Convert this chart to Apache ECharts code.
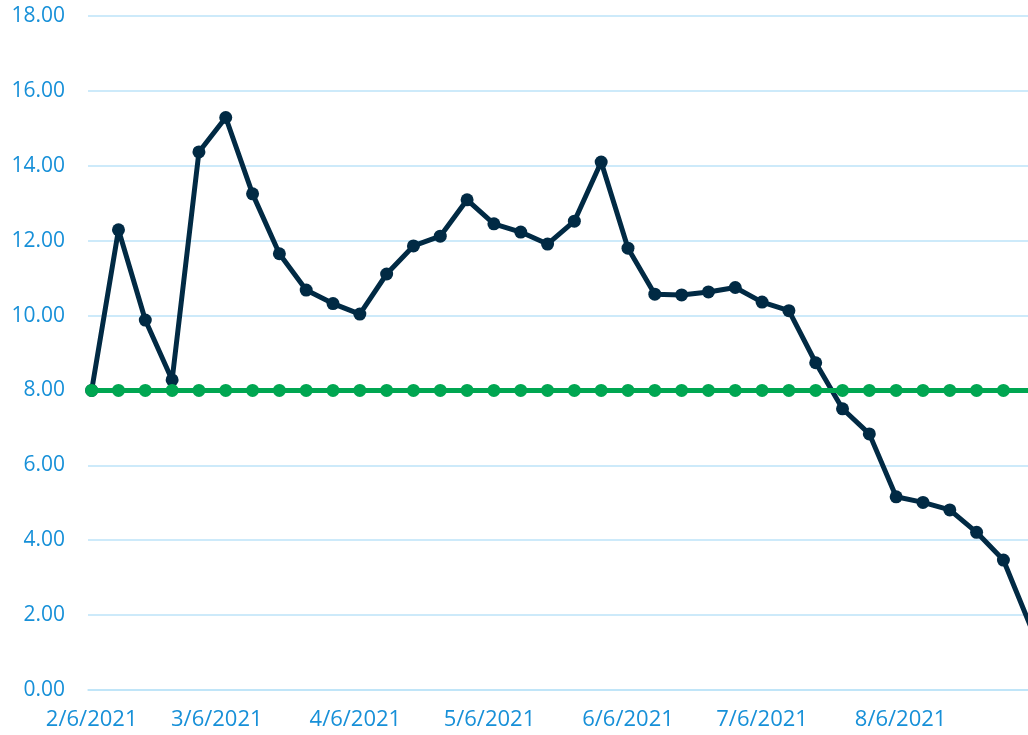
<!DOCTYPE html>
<html>
<head>
<meta charset="UTF-8"/>
<script src="https://cdn.jsdelivr.net/npm/echarts@6/dist/echarts.min.js"></script>
<style>
  html, body { margin: 0; background: #ffffff; }
  #c { width: 1028px; height: 735px; }
</style>
</head>
<body>
<div id="c"></div>
<script>
// dates of the readings (every 6 days)
const dates = [
  "2021-02-06", "2021-02-12", "2021-02-18", "2021-02-24", "2021-03-02", "2021-03-08",
  "2021-03-14", "2021-03-20", "2021-03-26", "2021-04-01", "2021-04-07", "2021-04-13",
  "2021-04-19", "2021-04-25", "2021-05-01", "2021-05-07", "2021-05-13", "2021-05-19",
  "2021-05-25", "2021-05-31", "2021-06-06", "2021-06-12", "2021-06-18", "2021-06-24",
  "2021-06-30", "2021-07-06", "2021-07-12", "2021-07-18", "2021-07-24", "2021-07-30",
  "2021-08-05", "2021-08-11", "2021-08-17", "2021-08-23", "2021-08-29", "2021-09-04"
];
const values = [
  8.00, 12.29, 9.88, 8.28, 14.37, 15.29,
  13.25, 11.65, 10.68, 10.32, 10.04, 11.11,
  11.86, 12.12, 13.09, 12.45, 12.23, 11.91,
  12.52, 14.10, 11.80, 10.57, 10.55, 10.63,
  10.75, 10.36, 10.13, 8.74, 7.51, 6.84,
  5.16, 5.01, 4.81, 4.21, 3.47, 1.72
];
const target = [
  8, 8, 8, 8, 8, 8,
  8, 8, 8, 8, 8, 8,
  8, 8, 8, 8, 8, 8,
  8, 8, 8, 8, 8, 8,
  8, 8, 8, 8, 8, 8,
  8, 8, 8, 8, 8, 8
];
const tickDates = ["2021-02-06", "2021-03-06", "2021-04-06", "2021-05-06", "2021-06-06", "2021-07-06", "2021-08-06"];

const DAY = 86400000;
function ts(s) {
  const p = s.split("-").map(Number);
  return Date.UTC(p[0], p[1] - 1, p[2]);
}
function fmtDate(v) {
  const d = new Date(v);
  return (d.getUTCMonth() + 1) + "/" + d.getUTCDate() + "/" + d.getUTCFullYear();
}

const blue = "#1790d8";
const gridCol = "#bce3f8";
const font = "'Open Sans', 'Noto Sans', sans-serif";

const chart = echarts.init(document.getElementById("c"), null, { renderer: "canvas" });
chart.setOption({
  animation: false,
  backgroundColor: "#ffffff",
  grid: { left: 88, right: 0, top: 16, bottom: 45 },
  xAxis: {
    type: "value",
    // the picture is cut on the right, just past the last reading
    min: ts(dates[0]) - 0.82 * DAY,
    max: ts(dates[dates.length - 1]) - 0.5 * DAY,
    axisLine: { show: true, lineStyle: { color: gridCol, width: 1.5 } },
    axisTick: { show: false },
    splitLine: { show: false },
    axisLabel: {
      customValues: tickDates.map(ts),
      formatter: (v) => fmtDate(v),
      color: blue,
      fontFamily: font,
      fontSize: 22,
      margin: 19
    }
  },
  yAxis: {
    type: "value",
    min: 0,
    max: 18,
    interval: 2,
    axisLine: { show: false },
    axisTick: { show: false },
    splitLine: { lineStyle: { color: gridCol, width: 1.5 } },
    axisLabel: {
      formatter: (v) => v.toFixed(2),
      color: blue,
      fontFamily: font,
      fontSize: 21,
      margin: 23
    }
  },
  series: [
    {
      type: "line",
      data: dates.map((d, i) => [ts(d), values[i]]),
      symbol: "circle",
      symbolSize: 13,
      showSymbol: true,
      lineStyle: { color: "#012a44", width: 5 },
      itemStyle: { color: "#012a44" },
      z: 2
    },
    {
      type: "line",
      data: dates.map((d, i) => [ts(d), target[i]]),
      symbol: "circle",
      symbolSize: 13,
      lineStyle: { color: "#00a651", width: 5 },
      itemStyle: { color: "#00a651" },
      z: 3
    }
  ]
});
</script>
</body>
</html>
